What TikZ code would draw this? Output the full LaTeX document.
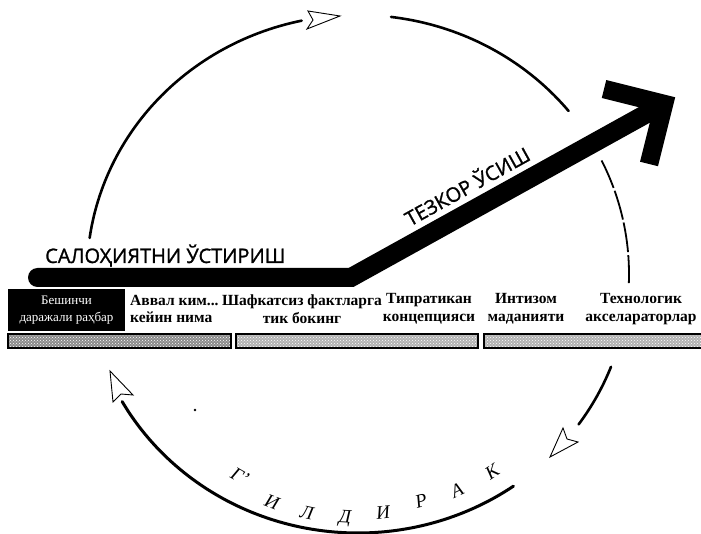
\documentclass[tikz,border=0pt]{standalone}
\usepackage{fontspec}
\setmainfont{Liberation Serif}
\newfontfamily\titlefont[FakeBold=1.2]{Open Sans}
\usetikzlibrary{patterns}
\begin{document}
\begin{tikzpicture}[x=1pt,y=-1pt,
  arcline/.style={line width=2.6pt, line cap=round},
  ahead/.style={draw, fill=white, line width=0.9pt, line join=miter},
  hdr/.style={font=\fontsize{15.5}{17.5}\selectfont\bfseries, align=center, inner sep=0pt},
  lbl/.style={font=\titlefont\fontsize{20}{24}\selectfont, inner sep=0pt},
  wheel/.style={font=\itshape\fontsize{19}{19}\selectfont, inner sep=0pt},
  bar/.style={draw, line width=1.4pt, preaction={fill=black!#1}, pattern=crosshatch dots, pattern color=white}
]
\useasboundingbox (0,0) rectangle (701,534);
\fill[white] (0,0) rectangle (701,534);

% wheel (ellipse pieces)
\draw[arcline] plot[domain=172:102, samples=60] ({358+271*cos(\x)},{274-259*sin(\x)});
\draw[arcline] plot[domain=83:39, samples=40] ({358+271*cos(\x)},{274-259*sin(\x)});
\draw[line width=1.8pt, dash pattern=on 30pt off 3pt] plot[domain=26:-2, samples=30] ({358+271*cos(\x)},{274-259*sin(\x)});
\draw[arcline] plot[domain=-21:-35.5, samples=20] ({358+271*cos(\x)},{274-259*sin(\x)});
\draw[arcline, line width=3pt] plot[domain=-55:-150.5, samples=80] ({358+271*cos(\x)},{274-259*sin(\x)});

% open arrowheads
\draw[ahead] (340,16) -- (308,11) -- (313,20) -- (307,29) -- cycle;
\draw[ahead] (550,457) -- (563,428) -- (567,439) -- (578,442) -- cycle;
\draw[ahead] (110,371) -- (113,402) -- (121,394) -- (133,395) -- cycle;

\fill (195,410) circle (1.3);

% big arrow
\fill (37.5,277.5) circle (9.5);
\draw[line width=19pt, line join=miter] (37.5,277.5) -- (351,277.5) -- (664,104);
\draw[line width=18.5pt, line join=miter] (604,89) -- (664,104) -- (649,164);

\node[lbl, anchor=base west] (build) at (45,263) {САЛОҲИЯТНИ ЎСТИРИШ};
\node[lbl, anchor=base, rotate=29] (breakthrough) at (471,193) {ТЕЗКОР ЎСИШ};

% header row
\node[fill=black, text=white, minimum width=117pt, minimum height=42pt, align=center,
      inner sep=0pt, font=\fontsize{13}{17}\selectfont] (lvl5) at (66.5,310) {Бешинчи\\даражали раҳбар};
\node[hdr, anchor=west, align=left] (who) at (130,309) {Аввал ким...\\кейин нима};
\node[hdr] (facts) at (302,309) {Шафкатсиз фактларга\\тик бокинг};
\node[hdr] (hedgehog) at (429,309) {Типратикан\\концепцияси};
\node[hdr] (culture) at (526,309) {Интизом\\маданияти};
\node[hdr] (tech) at (641,309) {Технологик\\акселараторлар};

\draw[bar=45] (8,334) rectangle (231,348);
\draw[bar=30] (236,334) rectangle (478,348);
\draw[bar=30] (484,334) rectangle (702,348);

% wheel label
\node[wheel, rotate=-30] (w1) at (240,476) {Г’};
\node[wheel, rotate=-21] (w2) at (272,502) {И};
\node[wheel, rotate=-12] (w3) at (307,513) {Л};
\node[wheel, rotate=-3] (w4) at (345,519) {Д};
\node[wheel, rotate=6] (w5) at (383,513) {И};
\node[wheel, rotate=15] (w6) at (421,501) {Р};
\node[wheel, rotate=25] (w7) at (457,490) {А};
\node[wheel, rotate=34] (w8) at (492,472) {К};
\end{tikzpicture}
\end{document}
